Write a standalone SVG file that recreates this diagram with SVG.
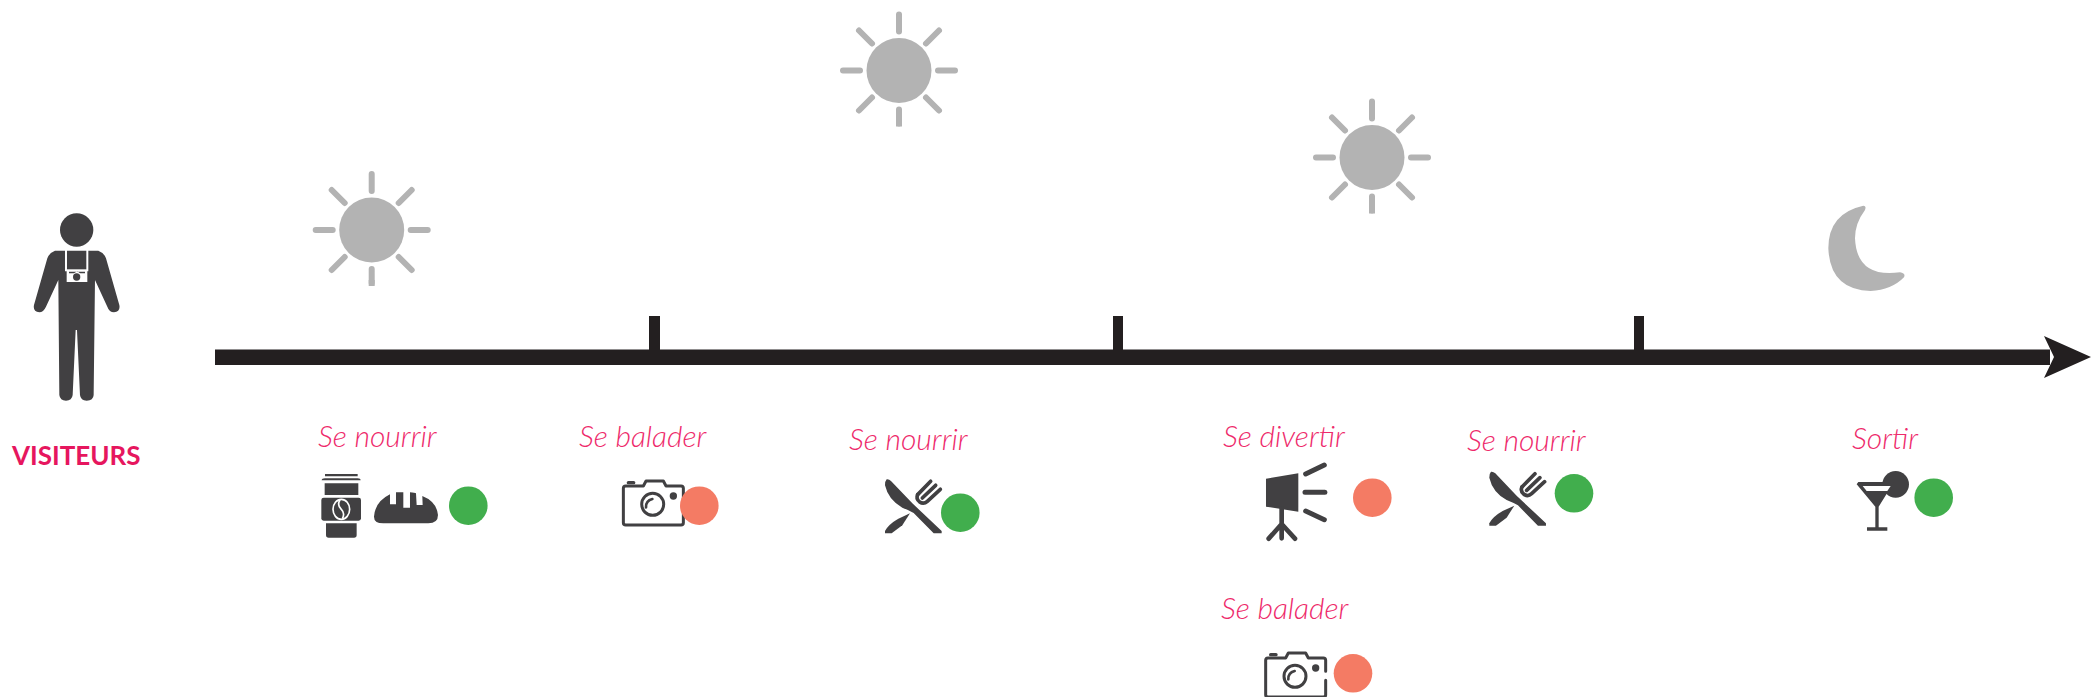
<svg xmlns="http://www.w3.org/2000/svg" xmlns:xlink="http://www.w3.org/1999/xlink" width="2091" height="697" viewBox="0 0 2091 697">
<style>
.lbl{font-family:Lato,"Liberation Sans",sans-serif;font-style:italic;font-weight:300;font-size:30px;fill:#ee2a6b}
.ttl{font-family:Lato,"Liberation Sans",sans-serif;font-weight:700;font-size:26px;fill:#e6165e}
.dark{fill:#414042}
.ray{stroke:#b3b3b3;stroke-width:6;stroke-linecap:round;fill:none}
.grn{fill:#41ae4d}.red{fill:#f47b64}
.axis{fill:#231f20}
</style>
<defs>
<g id="sun">
<circle r="32.5" fill="#b3b3b3"/>
<path class="ray" d="M0,-56V-39M0,39V53M-56,0H-39M39,0H56M-40,-40L-27,-27M40,-40L27,-27M-40,40L-27,27M40,40L27,27"/>
<path d="M-3,50h6v6h-6z" fill="#b3b3b3"/>
</g>
<g id="camera" transform="scale(.3333)">
<path d="M50,135H12Q5,135 5,128V25Q5,18 12,18H65L73,3H125L133,18H178Q185,18 185,25V58M185,85V128Q185,135 178,135H50" fill="none" stroke="#414042" stroke-width="9" stroke-linejoin="round" stroke-linecap="round"/>
<rect x="15" y="3" width="26" height="10" rx="5" class="dark"/>
<circle cx="93" cy="73" r="33" fill="none" stroke="#414042" stroke-width="9"/>
<path d="M73,82Q72,62 92,57" fill="none" stroke="#414042" stroke-width="8" stroke-linecap="round"/>
<circle cx="155" cy="48" r="11" class="dark"/>
</g>
<g id="cutlery" transform="scale(.3333)">
<path class="dark" d="M5,0Q12,-1 18,5L82,72L170,155L170,162H146L86,101Q70,92 52,85Q10,62 0,18Q0,5 5,0Z"/>
<path class="dark" d="M75,102L40,118Q10,135 0,155V162H20L52,138Z"/>
<g fill="none" stroke="#414042" stroke-width="11" stroke-linecap="round">
<path d="M98,46Q92,58 104,68Q116,76 127,66L166,30"/>
<path d="M98,46L137,6"/>
<path d="M112,56L152,18"/>
</g>
</g>
</defs>

<g id="connectors">
<path class="axis" d="M215,349.500H2050V365H215Z"/>
<path class="axis" d="M2044,336L2091,357L2044,378L2054,357Z"/>
<rect class="axis" x="649" y="316" width="11" height="34"/>
<rect class="axis" x="1113" y="316" width="10" height="34"/>
<rect class="axis" x="1634" y="316" width="10" height="34"/>
</g>

<g id="visiteurs">
<g transform="translate(0,190) scale(.3333)">
<circle cx="230" cy="120" r="50" class="dark"/>
<path class="dark" d="M165,182L295,182Q312,188 318,205L358,345Q362,365 342,367Q328,367 322,350L285,270L281,615Q280,632 260,632Q242,632 240,615L231,420H227L218,615Q216,632 198,632Q180,632 178,615L175,270L138,350Q130,367 118,367Q98,365 102,345L142,205Q148,188 165,182Z"/>
<path d="M198,178V244M262,178V244" stroke="#fff" stroke-width="6" fill="none"/>
<path d="M200,238H262V276H200Z" fill="#fff"/>
<path class="dark" d="M207,245H255V250H240L232,244L222,250H207Z"/>
<circle cx="230" cy="261" r="11" class="dark"/>
</g>
<text class="ttl" x="12" y="465">VISITEURS</text>
</g>

<g id="sun1"><use href="#sun" x="371.700" y="230"/></g>
<g id="sun2"><use href="#sun" x="899" y="70.500"/></g>
<g id="sun3"><use href="#sun" x="1372" y="157.500"/></g>
<g id="moon"><path transform="translate(1800,190) scale(.3333)" fill="#b3b3b3" d="M190,47Q85,70 85,175Q90,300 212,303Q275,300 312,262Q318,250 300,247Q170,265 165,145Q165,100 195,60Q200,47 190,47Z"/></g>

<g id="nourrir1">
<text class="lbl" x="318" y="447">Se nourrir</text>
<g transform="translate(290,410) scale(.3333)">
<path class="dark" d="M105,192H203V199H105ZM95,211Q95,205 105,205H203Q212,205 212,211ZM104,220H205V255H104Z"/>
<rect x="94" y="263" width="119" height="69" rx="7" class="dark"/>
<path class="dark" d="M108,340H200V375Q200,383 192,383H116Q108,383 108,375Z"/>
<ellipse cx="154" cy="298" rx="25" ry="30" fill="none" stroke="#fff" stroke-width="5"/>
<path d="M150,270Q140,285 154,298Q166,310 157,326" fill="none" stroke="#fff" stroke-width="5"/>
<path class="dark" d="M252,320Q255,275 300,253V283H318V247H340V293H360V247Q375,248 378,250L380,285H398L397,258Q440,275 444,315Q444,340 415,340H280Q252,340 252,320Z"/>
</g>
<circle class="grn" cx="468.300" cy="505.700" r="19.300"/>
</g>

<g id="balader1">
<text class="lbl" x="579" y="447">Se balader</text>
<use href="#camera" x="621.700" y="480"/>
<circle class="red" cx="699.300" cy="505.700" r="19.300"/>
</g>

<g id="nourrir2">
<text class="lbl" x="849" y="450">Se nourrir</text>
<use href="#cutlery" x="885" y="479.300"/>
<circle class="grn" cx="960.300" cy="512.700" r="19.300"/>
</g>

<g id="divertir">
<text class="lbl" x="1223" y="447">Se divertir</text>
<g transform="translate(1210,420) scale(.3333)">
<path class="dark" d="M168,176L265,160V275L168,260Z"/>
<path d="M215,265V355M215,312L176,356M215,312L255,356" fill="none" stroke="#414042" stroke-width="14" stroke-linecap="round"/>
<path d="M287,162L343,135M285,217H345M287,273L343,299" fill="none" stroke="#414042" stroke-width="15" stroke-linecap="round"/>
</g>
<circle class="red" cx="1372.300" cy="497.700" r="19.300"/>
</g>

<g id="nourrir3">
<text class="lbl" x="1467" y="451">Se nourrir</text>
<use href="#cutlery" x="1489.300" y="471.700"/>
<circle class="grn" cx="1574" cy="493.300" r="19.300"/>
</g>

<g id="balader2">
<text class="lbl" x="1221" y="619">Se balader</text>
<use href="#camera" x="1264" y="652"/>
<circle class="red" cx="1353" cy="673.300" r="19.300"/>
</g>

<g id="sortir">
<text class="lbl" x="1852" y="449">Sortir</text>
<g transform="translate(1800,190) scale(.3333)">
<circle cx="287" cy="883" r="40" class="dark"/>
<path class="dark" d="M175,876H282L236,950V1012H262V1022H201V1012H226V950L170,883Z"/>
<path d="M188,888H272L262,903H200Z" fill="#fff"/>
</g>
<circle class="grn" cx="1933.700" cy="497.700" r="19.300"/>
</g>
</svg>
